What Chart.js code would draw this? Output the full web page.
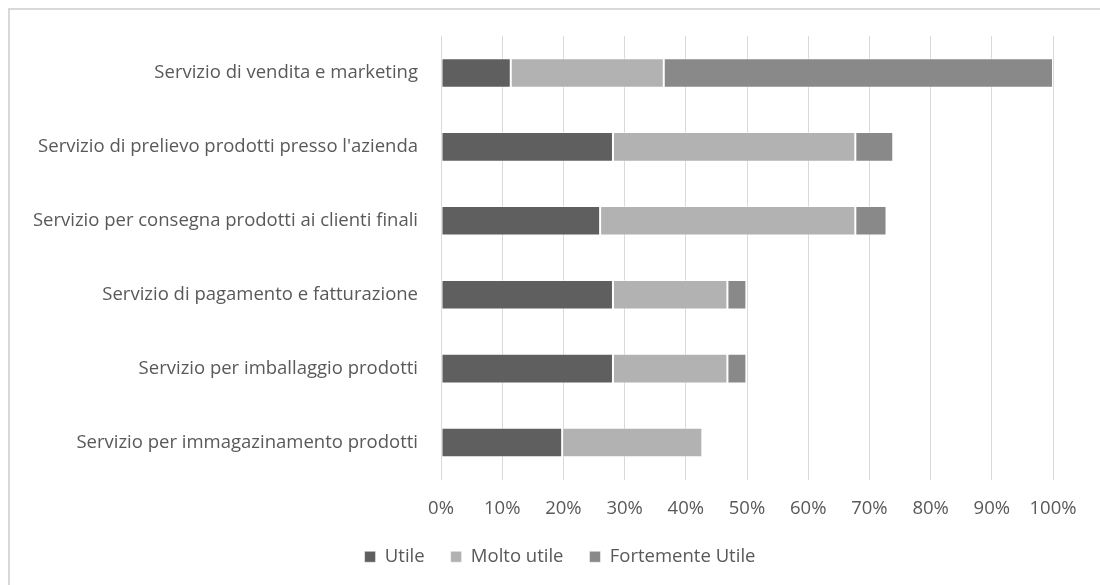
<!DOCTYPE html>
<html>
<head>
<meta charset="utf-8">
<script src="https://cdn.jsdelivr.net/npm/chart.js@4"></script>
<style>
  html, body { margin: 0; padding: 0; background: #ffffff; overflow: hidden; }
  #wrap { position: relative; width: 1100px; height: 585px; }
  #frame { position: absolute; left: 8px; top: 8px; width: 1200px; height: 700px;
           border-left: 2px solid #d9d9d9; border-top: 2px solid #d9d9d9; pointer-events: none; }
  canvas { position: absolute; left: 0; top: 0; }
</style>
</head>
<body>
<div id="wrap">
  <canvas id="chart" width="1100" height="585"></canvas>
  <div id="frame"></div>
</div>
<script>
// Services rated by usefulness (share of respondents, %)
const categories = [
  "Servizio di vendita e marketing",
  "Servizio di prelievo prodotti presso l'azienda",
  "Servizio per consegna prodotti ai clienti finali",
  "Servizio di pagamento e fatturazione",
  "Servizio per imballaggio prodotti",
  "Servizio per immagazinamento prodotti"
];
const utile           = [11.4, 28.1, 26.0, 28.1, 28.1, 19.8];
const moltoUtile      = [25.0, 39.6, 41.7, 18.7, 18.7, 22.9];
const fortementeUtile = [63.6,  6.2,  5.1,  3.1,  3.1,  0.0];
const seriesNames = ["Utile", "Molto utile", "Fortemente Utile"];
const xTicks = [0, 10, 20, 30, 40, 50, 60, 70, 80, 90, 100];

const textColor = '#595959';
const gridColor = '#d9d9d9';
const fontFamily = '"Open Sans", Lato, sans-serif';
const fontSize = 18.5;
const padLeft = 10;

const ds = (label, data, color) => ({
  label, data,
  backgroundColor: color,
  borderColor: 'rgba(255,255,255,0.5)',
  borderWidth: 1,
  borderSkipped: false,
  categoryPercentage: 1.0,
  barPercentage: 0.4
});

// Center the legend under the whole figure instead of the padded layout box
const legendShift = {
  id: 'legendShift',
  beforeDraw(chart) {
    const lg = chart.legend;
    if (!lg) return;
    const dx = 560 - (lg.left + lg.right) / 2;
    lg.left += dx;
    lg.right += dx;
  }
};

new Chart(document.getElementById('chart'), {
  type: 'bar',
  data: {
    labels: categories,
    datasets: [
      ds(seriesNames[0], utile, '#5f5f5f'),
      ds(seriesNames[1], moltoUtile, '#b2b2b2'),
      ds(seriesNames[2], fortementeUtile, '#898989')
    ]
  },
  plugins: [legendShift],
  options: {
    indexAxis: 'y',
    responsive: false,
    animation: false,
    devicePixelRatio: 1,
    layout: { padding: { left: padLeft, right: 47, top: 36, bottom: 9 } },
    scales: {
      x: {
        stacked: true,
        min: 0, max: 100,
        afterBuildTicks: (scale) => { scale.ticks = xTicks.map(v => ({ value: v })); },
        afterFit: (scale) => { scale.height = 42; },
        ticks: {
          color: textColor,
          font: { family: fontFamily, size: fontSize },
          padding: 18,
          maxRotation: 0,
          callback: (v) => v + '%'
        },
        grid: { color: gridColor, lineWidth: 1, drawTicks: false },
        border: { display: false }
      },
      y: {
        stacked: true,
        afterFit: (scale) => { scale.width = 441 - padLeft; },
        ticks: {
          color: textColor,
          font: { family: fontFamily, size: fontSize },
          padding: 23
        },
        grid: { display: false, drawTicks: false },
        border: { display: false }
      }
    },
    plugins: {
      legend: {
        position: 'bottom',
        maxHeight: 64,
        labels: {
          color: textColor,
          font: { family: fontFamily, size: fontSize },
          boxWidth: 11,
          boxHeight: 11,
          padding: 26
        }
      },
      tooltip: { enabled: false }
    }
  }
});
</script>
</body>
</html>
